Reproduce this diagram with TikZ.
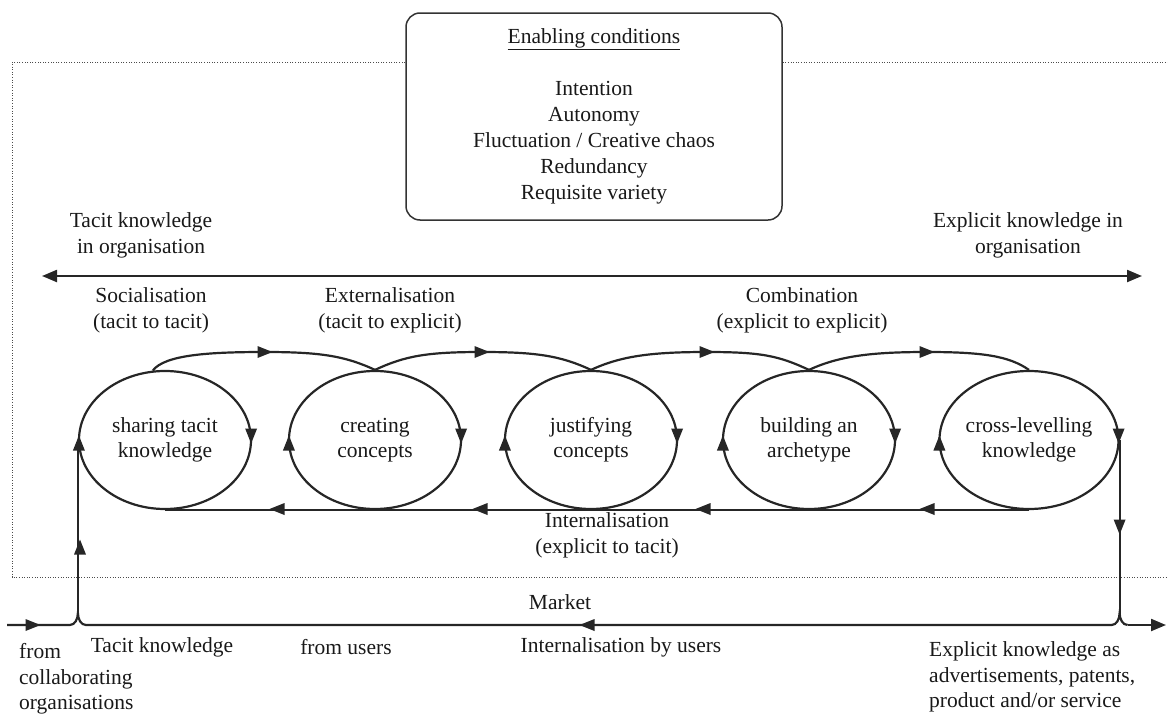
\documentclass[tikz,border=0pt]{standalone}
\usepackage{fontspec}
\setmainfont{Liberation Serif}
\usetikzlibrary{arrows.meta,shapes.geometric,calc}
\tikzset{
  lbl/.style={align=center, inner sep=0pt, text=black!90, font=\fontsize{21.5}{26}\selectfont},
  lbll/.style={align=left, inner sep=0pt, text=black!90, font=\fontsize{21.5}{25.5}\selectfont},
  phase/.style={ellipse, draw=black!85, line width=2.2pt, minimum width=172pt, minimum height=138pt,
    align=center, inner sep=0pt, text=black!90, font=\fontsize{21.5}{25}\selectfont},
  flow/.style={draw=black!85, line width=2.2pt},
  frame/.style={draw=black!70, line width=1pt, dash pattern=on 1pt off 1.6pt},
  ecbox/.style={draw=black!80, line width=1.5pt, rounded corners=14pt, minimum width=376pt,
    minimum height=207pt, align=center, inner sep=0pt, text=black!90, font=\fontsize{21.5}{26}\selectfont},
  bigtip/.style={-{Triangle[length=15pt,width=12pt]}},
  tipR/.pic={\fill[black!85] (-7.5,-6) -- (7.5,0) -- (-7.5,6) -- cycle;},
  tipL/.pic={\fill[black!85] (7.5,-6) -- (-7.5,0) -- (7.5,6) -- cycle;},
  tipU/.pic={\fill[black!85] (-6,7.5) -- (0,-7.5) -- (6,7.5) -- cycle;},
  tipD/.pic={\fill[black!85] (-6,-7.5) -- (0,7.5) -- (6,-7.5) -- cycle;},
}
\begin{document}
\begin{tikzpicture}[x=1pt,y=-1pt]
\useasboundingbox (0,0) rectangle (1168,715);

% enabling conditions box
\node[ecbox] (ec) at (594,116.5) {\underline{Enabling conditions}\\[26pt]Intention\\Autonomy\\Fluctuation / Creative chaos\\Redundancy\\Requisite variety};

% dotted organisation frame
\coordinate (ft) at (0,62);
\draw[frame] (ec.west |- ft) -- (12,62) -- (12,577) -- (1168,577);
\draw[frame] (ec.east |- ft) -- (1168,62);

% knowledge axis
\node[lbl] (tko) at (141,235) {Tacit knowledge\\in organisation};
\node[lbl] (eko) at (1028,235) {Explicit knowledge in\\organisation};
\coordinate (axl) at (42,276);
\coordinate (axr) at (1142,276);
\draw[flow, line width=2.2pt, {Triangle[length=15pt,width=12pt]}-{Triangle[length=15pt,width=12pt]}] (axl) -- (axr);

% mode labels
\node[lbl] (soc) at (151,310) {Socialisation\\(tacit to tacit)};
\node[lbl] (ext) at (390,310) {Externalisation\\(tacit to explicit)};
\node[lbl] (com) at (802,310) {Combination\\(explicit to explicit)};
\node[lbl] (int) at (607,535) {Internalisation\\(explicit to tacit)};

% phases
\node[phase] (e1) at (165,440) {sharing tacit\\knowledge};
\node[phase] (e2) at (375,440) {creating\\concepts};
\node[phase] (e3) at (591,440) {justifying\\concepts};
\node[phase] (e4) at (809,440) {building an\\archetype};
\node[phase] (e5) at (1029,440) {cross-levelling\\knowledge};

% upper arcs
\coordinate (m1) at (265,352);
\coordinate (m2) at (482,352);
\coordinate (m3) at (707,352);
\coordinate (m4) at (927,352);
\draw[flow] (e1.100) .. controls +(12,-16) and +(-55,0) .. (m1) .. controls +(55,0) and +(-30,-14) .. (e2.north);
\draw[flow] (e2.north) .. controls +(30,-14) and +(-55,0) .. (m2) .. controls +(55,0) and +(-30,-14) .. (e3.north);
\draw[flow] (e3.north) .. controls +(30,-14) and +(-55,0) .. (m3) .. controls +(55,0) and +(-30,-14) .. (e4.north);
\draw[flow] (e4.north) .. controls +(30,-14) and +(-55,0) .. (m4) .. controls +(55,0) and +(-20,-14) .. (e5.north);
\foreach \m in {m1,m2,m3,m4} \pic at (\m) {tipR};

% lower return line
\draw[flow] (e5.south) -- (e1.south);
\foreach \x in {277,480,703,927} \pic at (\x,509) {tipL};

% side arrows on ellipses
\foreach \e in {e1,e2,e3,e4,e5} {
  \pic at ($(\e.east)+(-1,-4)$) {tipD};
  \pic at ($(\e.west)+(1,3)$) {tipU};
}

% market line
\coordinate (mL) at (7,625);
\coordinate (mR) at (1166,625);
\coordinate (mk) at (0,613);
\coordinate (jl) at (e1.west |- mk);
\coordinate (jr) at (e5.east |- mk);
\draw[flow] (e1.west) -- (jl);
\draw[flow] (e5.east) -- (jr);
\draw[flow] (mL) -- ($(jl)+(-8,12)$) .. controls +(5,0) and +(0,6) .. (jl)
  .. controls +(0,6) and +(-5,0) .. ($(jl)+(8,12)$) -- ($(jr)+(-8,12)$)
  .. controls +(5,0) and +(0,6) .. (jr) .. controls +(0,6) and +(-5,0) .. ($(jr)+(8,12)$);
\draw[flow, bigtip] ($(jr)+(8,12)$) -- (mR);
\pic at (33,625) {tipR};
\pic at (587,625) {tipL};
\pic at (80,547) {tipU};
\pic at ($(jr)+(0,-86)$) {tipD};

% market labels
\node[lbl] (mkt) at (560,602) {Market};
\node[lbl] (tk) at (162,647) {Tacit knowledge};
\node[lbl] (fu) at (346,647) {from users};
\node[lbl] (ibu) at (621,647) {Internalisation by users};
\node[lbll, anchor=west] (fco) at (19,679) {from\\collaborating\\organisations};
\node[lbll, anchor=west] (eka) at (929,677) {Explicit knowledge as\\advertisements, patents,\\product and/or service};
\end{tikzpicture}
\end{document}
